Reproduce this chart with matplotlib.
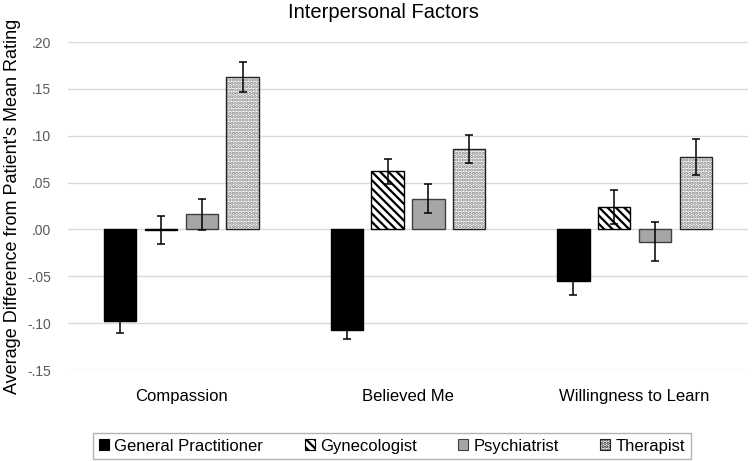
import matplotlib
matplotlib.use("Agg")
import matplotlib.pyplot as plt
import numpy as np

plt.rcParams.update({
    "font.family": ["Liberation Sans", "DejaVu Sans"],
    "hatch.linewidth": 1.6,
})

categories = ["Compassion", "Believed Me", "Willingness to Learn"]
groups = ["General Practitioner", "Gynecologist", "Psychiatrist", "Therapist"]
values = {
    "General Practitioner": [-0.098, -0.107, -0.055],
    "Gynecologist": [-0.001, 0.062, 0.024],
    "Psychiatrist": [0.016, 0.033, -0.013],
    "Therapist": [0.163, 0.086, 0.077],
}
errors = {
    "General Practitioner": [0.012, 0.010, 0.015],
    "Gynecologist": [0.015, 0.013, 0.018],
    "Psychiatrist": [0.017, 0.016, 0.021],
    "Therapist": [0.016, 0.015, 0.019],
}
yticks = [-0.15, -0.10, -0.05, 0.0, 0.05, 0.10, 0.15, 0.20]

# face, hatch colour, hatch, outline
styles = {
    "General Practitioner": ("black", "black", None, "black"),
    "Gynecologist": ("white", "black", "\\\\\\\\", "black"),
    "Psychiatrist": ("#a6a6a6", "#a6a6a6", None, "#404040"),
    "Therapist": ("white", "#808080", ".....", "#222222"),
}

fig = plt.figure(figsize=(7.52, 4.61), dpi=100)
ax = fig.add_axes([68 / 752, 1 - 370 / 461, 680 / 752, 328 / 461])

x = np.arange(len(categories))
offsets = [-0.27, -0.09, 0.09, 0.27]
width = 0.143
handles = []
for g, off in zip(groups, offsets):
    face, hcol, hatch, edge = styles[g]
    ax.bar(x + off, values[g], width, color=face, edgecolor=hcol, hatch=hatch,
           linewidth=0, zorder=3)
    ax.bar(x + off, values[g], width, fill=False, edgecolor=edge, linewidth=1.0, zorder=3.5)
    ax.errorbar(x + off, values[g], yerr=errors[g], fmt="none", ecolor="black",
                elinewidth=1.1, capsize=3, capthick=1.1, zorder=4)
    handles.append(plt.Rectangle((0, 0), 1, 1, facecolor=face, edgecolor=edge,
                                 hatch=hatch, linewidth=0.8))

ax.set_xlim(-0.5, 2.5)
ax.set_ylim(-0.15, 0.20)
ax.set_yticks(yticks)
ax.set_yticklabels([f"{v:.2f}".replace("0.", ".") for v in yticks], color="#595959", fontsize=10)
ax.yaxis.grid(True, color="#d9d9d9", linewidth=1.0, zorder=0)
ax.set_xticks(x)
ax.set_xticklabels(categories, fontsize=12)
ax.tick_params(axis="both", length=0)
ax.tick_params(axis="x", pad=14)
ax.tick_params(axis="y", pad=12)
for sp in ax.spines.values():
    sp.set_visible(False)

ax.set_ylabel("Average Difference from Patient's Mean Rating", fontsize=13, labelpad=5)
fig.text(383 / 752, 1 - 13 / 461, "Interpersonal Factors", ha="center", va="center", fontsize=14.5)

leg = ax.legend(handles, groups, ncol=4, loc="center", bbox_to_anchor=(392 / 752, 1 - 446 / 461),
                bbox_transform=fig.transFigure, fontsize=12, frameon=True, fancybox=False,
                edgecolor="#a0a0a0", handlelength=0.6, handleheight=0.6, handletextpad=0.3,
                columnspacing=2.5, borderpad=0.35)
leg.get_frame().set_linewidth(1.0)

fig.savefig("out.png", dpi=100)
